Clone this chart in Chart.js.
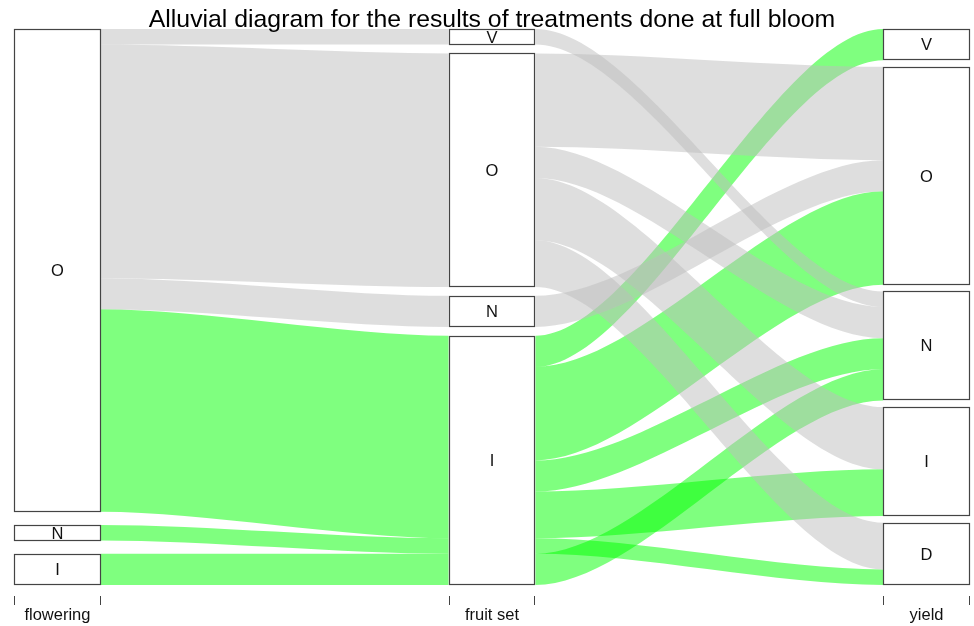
<!DOCTYPE html>
<html lang="en">
<head>
  <meta charset="UTF-8">
  <title>Alluvial diagram</title>
  <script src="https://cdn.jsdelivr.net/npm/chart.js"></script>
  <style>
    html, body {
      margin: 0;
      padding: 0;
      background-color: #fff;
    }
    .chart-container {
      position: relative;
      width: 974px;
      height: 626px;
    }
  </style>
</head>
<body>
  <div class="chart-container">
    <canvas id="alluvialChart"></canvas>
  </div>

  <script>
    // one entry per alluvium: flowering -> fruit set -> yield, with its count
    const flowering = ['O', 'O', 'O', 'O', 'O', 'O', 'O', 'O', 'O', 'O', 'N', 'I'];
    const fruitSet  = ['V', 'O', 'O', 'O', 'O', 'N', 'I', 'I', 'I', 'I', 'I', 'I'];
    const yieldRes  = ['N', 'O', 'N', 'I', 'D', 'O', 'V', 'O', 'N', 'I', 'D', 'N'];
    const freq      = [1, 6, 2, 4, 3, 2, 2, 6, 2, 3, 1, 2];

    // category levels of each axis, bottom to top
    const floweringLevels = ['I', 'N', 'O'];
    const fruitSetLevels  = ['I', 'N', 'O', 'V'];
    const yieldLevels     = ['D', 'I', 'N', 'O', 'V'];

    const axisLabels = ['flowering', 'fruit set', 'yield'];
    const chartTitle = 'Alluvial diagram for the results of treatments done at full bloom';

    const vars = [flowering, fruitSet, yieldRes];
    const levels = [floweringLevels, fruitSetLevels, yieldLevels];
    const gapWidth = 0.05;  // total gap on an axis
    const cw = 0.1;         // half width of the blocks
    const bend = 0.3;       // how far the curve handles reach
    const total = freq.reduce((a, b) => a + b, 0);

    // stripe positions on axis i (values 0..1), sorted by axis i then the others
    const stripes = (i) => {
      const keys = [i].concat([0, 1, 2].filter(k => k !== i));
      const idx = freq.map((_, r) => r);
      idx.sort((a, b) => {
        for (const k of keys) {
          const d = levels[k].indexOf(vars[k][a]) - levels[k].indexOf(vars[k][b]);
          if (d !== 0) return d;
        }
        return a - b;
      });
      const step = gapWidth / (levels[i].length - 1);
      const out = [];
      let cum = 0, gaps = 0, prev = null;
      idx.forEach(r => {
        if (prev !== null && vars[i][r] !== prev) gaps += step;
        prev = vars[i][r];
        const y1 = cum / total + gaps;
        cum += freq[r];
        const y2 = cum / total + gaps;
        out[r] = [y1 / (1 + gapWidth), y2 / (1 + gapWidth)];
      });
      return out;
    };
    const pos = [0, 1, 2].map(stripes);

    const colorFor = (r) => fruitSet[r] === 'I' ? 'rgba(0, 255, 0, 0.5)' : 'rgba(190, 190, 190, 0.5)';

    const alluvialPlugin = {
      id: 'alluvial',
      afterDatasetsDraw(chart) {
        const ctx = chart.ctx;
        const xs = chart.scales.x;
        const ys = chart.scales.y;
        const area = chart.chartArea;
        ctx.save();

        // flows; stripes sharing both end categories are parallel, fill them as one path (no seams)
        for (let j = 0; j < 2; j++) {
          const x0 = xs.getPixelForValue(j + 1 + cw);
          const x1 = xs.getPixelForValue(j + 2 - cw);
          const dx = (x1 - x0) * bend;
          const groups = [];
          for (let r = freq.length - 1; r >= 0; r--) {
            const key = vars[j][r] + '|' + vars[j + 1][r] + '|' + colorFor(r);
            let g = groups.find(q => q.key === key);
            if (!g) {
              g = { key: key, color: colorFor(r), rows: [] };
              groups.push(g);
            }
            g.rows.push(r);
          }
          groups.forEach(g => {
            ctx.fillStyle = g.color;
            ctx.beginPath();
            g.rows.forEach(r => {
              const t0 = ys.getPixelForValue(pos[j][r][1]);
              const b0 = ys.getPixelForValue(pos[j][r][0]);
              const t1 = ys.getPixelForValue(pos[j + 1][r][1]);
              const b1 = ys.getPixelForValue(pos[j + 1][r][0]);
              ctx.moveTo(x0, t0);
              ctx.bezierCurveTo(x0 + dx, t0, x1 - dx, t1, x1, t1);
              ctx.lineTo(x1, b1);
              ctx.bezierCurveTo(x1 - dx, b1, x0 + dx, b0, x0, b0);
              ctx.closePath();
            });
            ctx.fill('nonzero');
          });
        }

        // blocks with their labels
        ctx.font = '16.5px "Liberation Sans", Arial, sans-serif';
        ctx.textAlign = 'center';
        ctx.textBaseline = 'middle';
        levels.forEach((lv, i) => {
          const xl = Math.round(xs.getPixelForValue(i + 1 - cw)) + 0.5;
          const xr = Math.round(xs.getPixelForValue(i + 1 + cw)) - 0.5;
          lv.forEach(cat => {
            let lo = Infinity, hi = -Infinity;
            freq.forEach((_, r) => {
              if (vars[i][r] !== cat) return;
              lo = Math.min(lo, pos[i][r][0]);
              hi = Math.max(hi, pos[i][r][1]);
            });
            if (lo === Infinity) return;
            const yt = Math.round(ys.getPixelForValue(hi)) + 0.5;
            const yb = Math.round(ys.getPixelForValue(lo)) - 0.5;
            ctx.fillStyle = '#fff';
            ctx.fillRect(xl, yt, xr - xl, yb - yt);
            ctx.strokeStyle = '#444';
            ctx.lineWidth = 1.2;
            ctx.strokeRect(xl, yt, xr - xl, yb - yt);
            ctx.fillStyle = '#111';
            ctx.fillText(cat, (xl + xr) / 2, (yt + yb) / 2 + 1);
          });

          // ticks at the block edges and the axis name
          ctx.strokeStyle = '#444';
          ctx.lineWidth = 1;
          ctx.beginPath();
          ctx.moveTo(xl, area.bottom + 11);
          ctx.lineTo(xl, area.bottom + 20);
          ctx.moveTo(xr, area.bottom + 11);
          ctx.lineTo(xr, area.bottom + 20);
          ctx.stroke();
          ctx.fillStyle = '#111';
          ctx.textBaseline = 'alphabetic';
          ctx.fillText(axisLabels[i], xs.getPixelForValue(i + 1), area.bottom + 35);
          ctx.textBaseline = 'middle';
        });

        // title
        ctx.font = '24.8px "Liberation Sans", Arial, sans-serif';
        ctx.textBaseline = 'alphabetic';
        ctx.fillStyle = '#000';
        ctx.fillText(chartTitle, (area.left + area.right) / 2, 27);
        ctx.restore();
      }
    };

    new Chart(document.getElementById('alluvialChart'), {
      type: 'scatter',
      data: { datasets: [{ data: [] }] },
      options: {
        responsive: true,
        maintainAspectRatio: false,
        animation: false,
        layout: { padding: { left: 14, right: 4, top: 29, bottom: 41 } },
        scales: {
          x: { type: 'linear', min: 0.9, max: 3.1, display: false },
          y: { type: 'linear', min: 0, max: 1, display: false }
        },
        plugins: {
          legend: { display: false },
          tooltip: { enabled: false }
        }
      },
      plugins: [alluvialPlugin]
    });
  </script>
</body>
</html>
